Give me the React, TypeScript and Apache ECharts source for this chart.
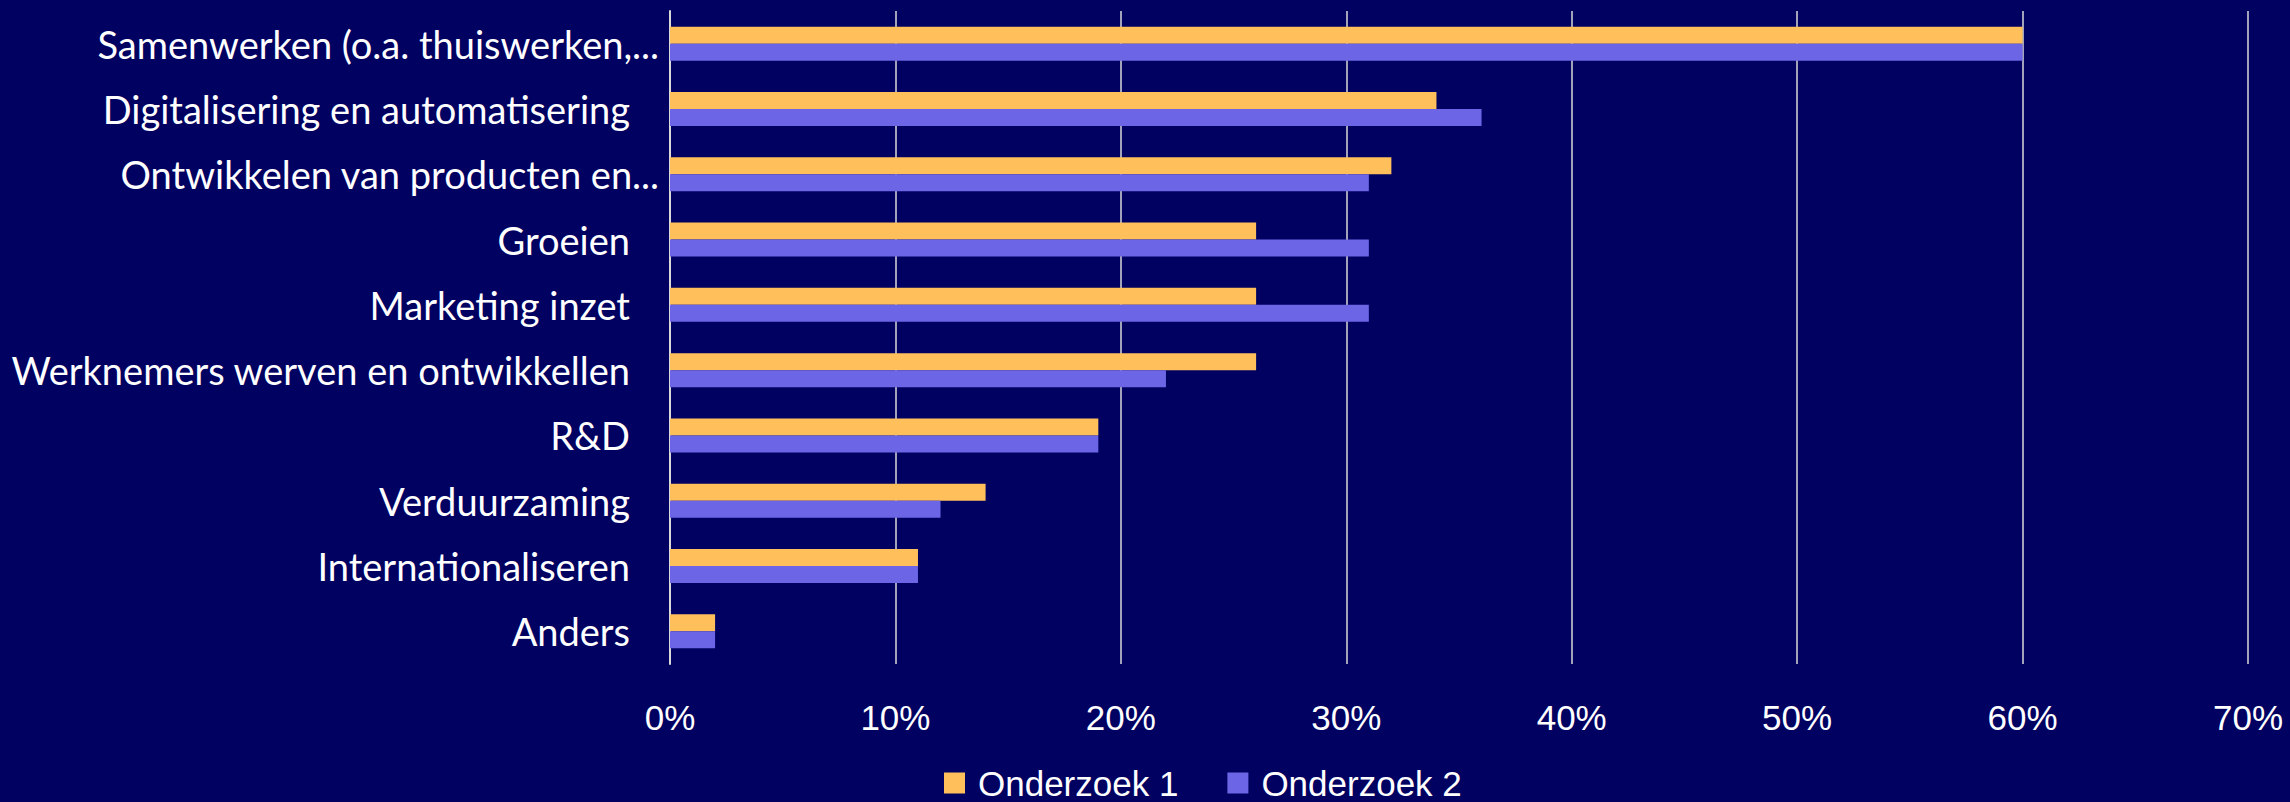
import React, { useEffect, useRef } from "react";
import * as echarts from "echarts";

const categories = [
  "Samenwerken (o.a. thuiswerken,...",
  "Digitalisering en automatisering",
  "Ontwikkelen van producten en...",
  "Groeien",
  "Marketing inzet",
  "Werknemers werven en ontwikkellen",
  "R&D",
  "Verduurzaming",
  "Internationaliseren",
  "Anders",
];
const truncated = [true, false, true, false, false, false, false, false, false, false];
const onderzoek1 = [60, 34, 32, 26, 26, 26, 19, 14, 11, 2];
const onderzoek2 = [60, 36, 31, 31, 31, 22, 19, 12, 11, 2];
const seriesNames = ["Onderzoek 1", "Onderzoek 2"];
const xTicks = { min: 0, max: 70, interval: 10 };

const BG = "#010161";
const ORANGE = "#FFC05C";
const PURPLE = "#6C66E6";
const GRID = "#D9D9D9";

export default function App() {
  const ref = useRef<HTMLDivElement>(null);
  useEffect(() => {
    document.body.style.margin = "0";
    const chart = echarts.init(ref.current!, null, { renderer: "svg" });
    chart.setOption({
      animation: false,
      backgroundColor: BG,
      grid: { left: 670, right: 42, top: 11, bottom: 138, containLabel: false },
      legend: {
        left: 939,
        top: 758,
        itemWidth: 21,
        itemHeight: 21,
        itemGap: 49,
        icon: "rect",
        textStyle: {
          color: "#FFFFFF",
          fontFamily: "Liberation Sans, Arial, sans-serif",
          fontSize: 35,
          lineHeight: 40,
          padding: [0, 0, 0, 8],
        },
        data: seriesNames,
      },
      xAxis: {
        type: "value",
        min: xTicks.min,
        max: xTicks.max,
        interval: xTicks.interval,
        axisLine: { show: false },
        axisTick: { show: false },
        axisLabel: {
          formatter: "{value}%",
          color: "#FFFFFF",
          fontFamily: "Liberation Sans, Arial, sans-serif",
          fontSize: 35,
          margin: 36,
        },
        splitLine: { show: true, lineStyle: { color: GRID, width: 1.5 } },
      },
      yAxis: {
        type: "category",
        inverse: true,
        data: categories,
        axisLine: { show: true, lineStyle: { color: GRID, width: 2 } },
        axisTick: { show: false },
        axisLabel: {
          margin: 11,
          formatter: (v: string, i: number) => (truncated[i] ? `{t|${v}}` : `{f|${v}}`),
          rich: {
            t: { color: "#FFFFFF", fontFamily: "Lato, sans-serif", fontSize: 38 },
            f: {
              color: "#FFFFFF",
              fontFamily: "Lato, sans-serif",
              fontSize: 38,
              padding: [0, 29, 0, 0],
            },
          },
        },
      },
      series: [
        {
          name: seriesNames[0],
          type: "bar",
          data: onderzoek1,
          barWidth: 17,
          barGap: "0%",
          itemStyle: { color: ORANGE },
        },
        {
          name: seriesNames[1],
          type: "bar",
          data: onderzoek2,
          barWidth: 17,
          barGap: "0%",
          itemStyle: { color: PURPLE },
        },
      ],
    });
    return () => chart.dispose();
  }, []);
  return (
    <div
      ref={ref}
      style={{ position: "absolute", left: 0, top: 0, width: 2290, height: 802 }}
    />
  );
}
